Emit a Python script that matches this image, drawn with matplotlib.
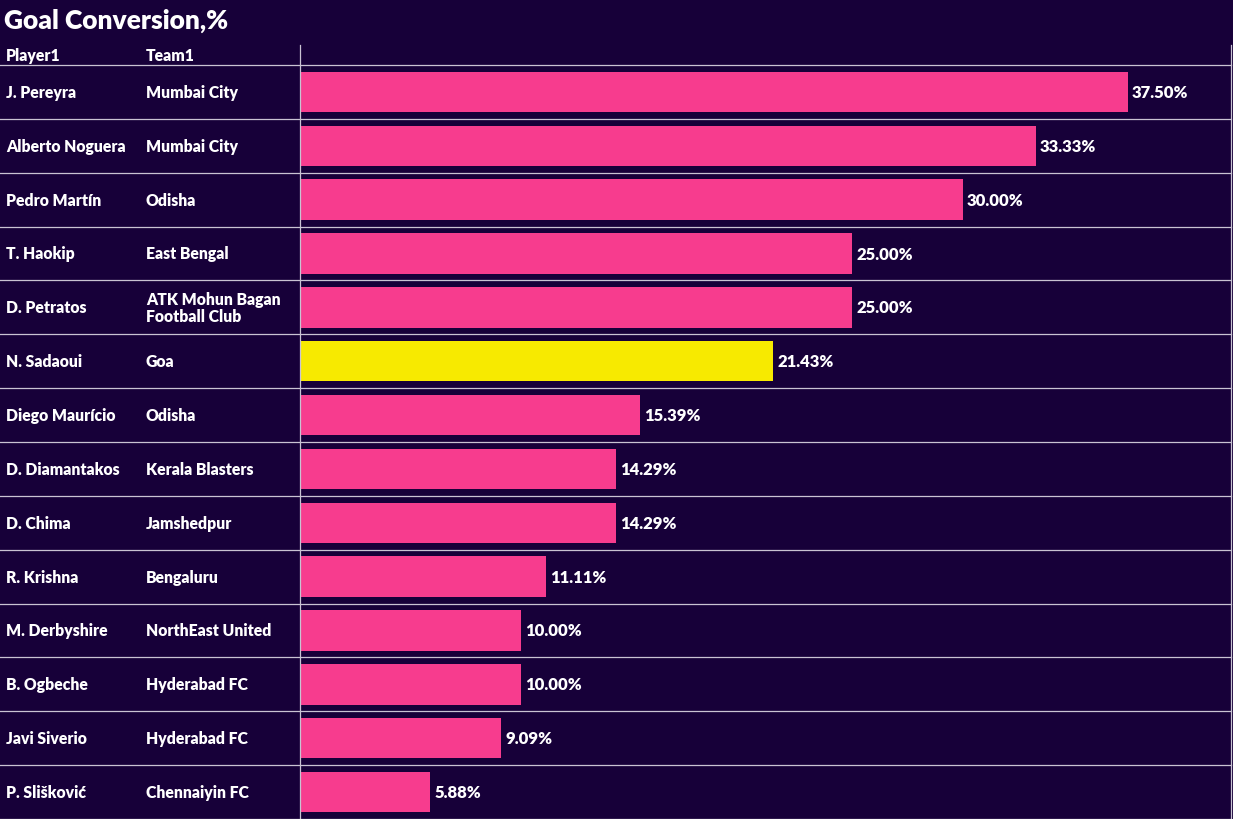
import textwrap
import numpy as np
import matplotlib
matplotlib.use('Agg')
import matplotlib.pyplot as plt
from matplotlib.lines import Line2D

#DATA===================================================================
players = ['J. Pereyra', 'Alberto Noguera', 'Pedro Martín', 'T. Haokip',
           'D. Petratos', 'N. Sadaoui', 'Diego Maurício', 'D. Diamantakos',
           'D. Chima', 'R. Krishna', 'M. Derbyshire', 'B. Ogbeche',
           'Javi Siverio', 'P. Slišković']
teams = ['Mumbai City', 'Mumbai City', 'Odisha', 'East Bengal',
         'ATK Mohun Bagan Football Club', 'Goa', 'Odisha', 'Kerala Blasters',
         'Jamshedpur', 'Bengaluru', 'NorthEast United', 'Hyderabad FC',
         'Hyderabad FC', 'Chennaiyin FC']
conversion = [37.50, 33.33, 30.00, 25.00, 25.00, 21.43, 15.39, 14.29,
              14.29, 11.11, 10.00, 10.00, 9.09, 5.88]
highlight = ['N. Sadaoui']

#STYLE==================================================================
bgCol   = '#170039'
barCol  = '#F73C8E'
hiCol   = '#F7EA00'
lnCol   = '#C9C3D3'
fnt     = 'Lato'
wgt     = 'heavy'
fs      = 11.3

W, H = 1233, 820
fig = plt.figure(figsize=(W/100, H/100), dpi=100, facecolor=bgCol)

def fx(px):
    return px/W

def fy(py):
    return 1 - py/H

# -- geometry (pixels)
hdrTop  = 46
rowTop  = 66
nRows   = len(players)
rowH    = (H - rowTop)/nRows
xBar0   = 300.5
xEnd    = 1231
pxPerPc = 22.07

ax = fig.add_axes([fx(xBar0), 0, fx(xEnd - xBar0), 1 - rowTop/H])
ax.set_facecolor(bgCol)
ax.set_xlim(0, (xEnd - xBar0)/pxPerPc)
ax.set_ylim(nRows, 0)
ax.axis('off')

ypos = np.arange(nRows) + 0.5
cols = [hiCol if p in highlight else barCol for p in players]
ax.barh(ypos, conversion, height=0.75, color=cols, zorder=2)
for y, v in zip(ypos, conversion):
    ax.text(v + 4/pxPerPc, y, '%.2f%%' % v, color='white', fontsize=12,
            fontweight=wgt, family=fnt, va='center', ha='left')

# -- title and header
fig.text(fx(4), fy(21), 'Goal Conversion,%', color='white', fontsize=19,
         fontweight=wgt, family=fnt, va='center', ha='left')
fig.text(fx(6), fy(56), 'Player1', color='white', fontsize=fs,
         fontweight=wgt, family=fnt, va='center', ha='left')
fig.text(fx(146), fy(56), 'Team1', color='white', fontsize=fs,
         fontweight=wgt, family=fnt, va='center', ha='left')

# -- table rows
for i in range(nRows):
    yc = rowTop + (i + 0.5)*rowH
    fig.text(fx(6), fy(yc), players[i], color='white', fontsize=fs,
             fontweight=wgt, family=fnt, va='center', ha='left')
    fig.text(fx(146), fy(yc), textwrap.fill(teams[i], 16), color='white',
             fontsize=fs, fontweight=wgt, family=fnt, va='center',
             ha='left', linespacing=1.1)

# -- grid lines
for i in range(nRows + 1):
    yl = fy(rowTop + i*rowH)
    fig.add_artist(Line2D([0, fx(xEnd)], [yl, yl], color=lnCol, lw=0.9))
for xl in [300, xEnd]:
    fig.add_artist(Line2D([fx(xl), fx(xl)], [fy(hdrTop), 0], color=lnCol, lw=0.9))

fig.savefig('out.png', dpi=100, facecolor=bgCol)
